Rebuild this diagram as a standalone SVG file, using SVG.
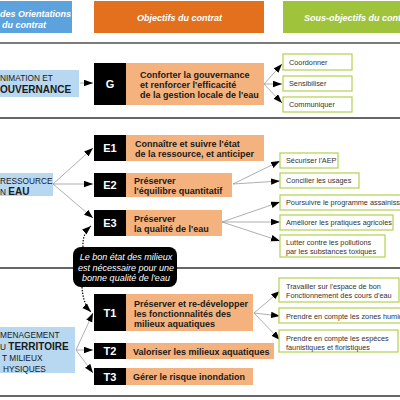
<svg xmlns="http://www.w3.org/2000/svg" width="400" height="400" viewBox="0 0 400 400">
<defs>
<marker id="ah" markerUnits="userSpaceOnUse" markerWidth="10" markerHeight="7" refX="9" refY="3.25" orient="auto">
<path d="M0,0 L9,3.25 L0,6.5 z" fill="#000"/>
</marker>
<style>
text{font-family:"Liberation Sans",Arial,sans-serif}
.hd{font-size:9px;font-weight:bold;font-style:italic;fill:#fff}
.ax{fill:#b8d7f0}
.axt{font-size:8.3px;fill:#1a1a1a}
.axb{font-size:10px;font-weight:bold;fill:#1a1a1a}
.bk{fill:#000}
.bkt{font-size:11px;font-weight:bold;fill:#fff;text-anchor:middle}
.or{fill:#f3b27e}
.ort{font-size:9px;font-weight:bold;fill:#1a1a1a}
.sb{fill:#fff;stroke:#b8d45c;stroke-width:1.3}
.sbt{font-size:7.3px;fill:#333}
.cn{fill:none;stroke:#9a9a9a;stroke-width:0.8;marker-end:url(#ah)}
.dt{fill:none;stroke:#000;stroke-width:1.2;stroke-dasharray:1.4 1.4;marker-end:url(#ah)}
.sep{stroke:#333;stroke-width:1.3}
.cot{font-size:9px;font-style:italic;fill:#fff;text-anchor:middle}
</style>
</defs>
<rect width="400" height="400" fill="#fff"/>
<g id="header">
<rect x="-2" y="1" width="74" height="32" fill="#5ca3de"/>
<text class="hd" x="0" y="16.5" font-size="8.4">des Orientations</text>
<text class="hd" x="2" y="27.5">du contrat</text>
<rect x="94" y="1" width="170" height="32" fill="#e3701d"/>
<text class="hd" x="179.5" y="20.5" text-anchor="middle">Objectifs du contrat</text>
<rect x="283" y="1" width="120" height="32" fill="#9fc43c"/>
<text class="hd" x="304" y="20.5">Sous-objectifs du contrat</text>
</g>
<g id="separators">
<line x1="0" y1="43" x2="400" y2="43" stroke="#7a7a7a" stroke-width="2"/>
<line class="sep" x1="0" y1="118" x2="400" y2="118"/>
<line class="sep" x1="0" y1="268" x2="400" y2="268"/>
<line class="sep" x1="0" y1="396" x2="400" y2="396"/>
</g>
<g id="connectors">
<path class="cn" d="M80,83 L93,83"/>
<path class="cn" d="M264,84 L282,64"/>
<path class="cn" d="M264,84 L282,84"/>
<path class="cn" d="M264,84 L282,103"/>
<path class="cn" d="M53,184 L93,148"/>
<path class="cn" d="M53,184 L93,184"/>
<path class="cn" d="M53,184 L93,218"/>
<path class="cn" d="M233,184 L280,161"/>
<path class="cn" d="M233,184 L280,181"/>
<path class="cn" d="M222,222 L280,202"/>
<path class="cn" d="M222,222 L280,222"/>
<path class="cn" d="M222,222 L280,241"/>
<path class="cn" d="M76,350 L93,313"/>
<path class="cn" d="M76,350 L93,350"/>
<path class="cn" d="M76,350 L93,373"/>
<path class="cn" d="M254,313 L280,291"/>
<path class="cn" d="M254,313 L280,316"/>
<path class="cn" d="M254,313 L280,340"/>
<path class="dt" d="M83,247 Q82,234 91,226"/>
<path class="dt" d="M82,287 Q83,304 91,312"/>
</g>
<g id="axe-gouvernance">
<rect class="ax" x="-1" y="70" width="80" height="27"/>
<text class="axt" x="0" y="80.5">NIMATION ET</text>
<text class="axb" x="0" y="92.5">OUVERNANCE</text>
</g>
<g id="obj-G">
<rect class="bk" x="94" y="63" width="32" height="42"/>
<text class="bkt" x="110" y="88">G</text>
<rect class="or" x="126" y="63" width="138" height="42"/>
<text class="ort" x="140" y="77.5">Conforter la gouvernance</text>
<text class="ort" x="140" y="87.5">et renforcer l'efficacité</text>
<text class="ort" x="140" y="97.5">de la gestion locale de l'eau</text>
</g>
<g id="sub-coordonner"><rect class="sb" x="283" y="54" width="69" height="16"/><text class="sbt" x="289" y="64.6">Coordonner</text></g>
<g id="sub-sensibiliser"><rect class="sb" x="283" y="76" width="69" height="15"/><text class="sbt" x="289" y="86">Sensibiliser</text></g>
<g id="sub-communiquer"><rect class="sb" x="283" y="97" width="69" height="15"/><text class="sbt" x="289" y="107">Communiquer</text></g>
<g id="axe-ressource">
<rect class="ax" x="-1" y="173" width="54" height="23"/>
<text class="axt" x="0" y="184" font-size="7.6">RESSOURCE</text>
<text x="0" y="195"><tspan class="axt">N </tspan><tspan class="axb" font-size="9.5">EAU</tspan></text>
</g>
<g id="obj-E1">
<rect class="bk" x="94" y="135" width="32" height="26"/>
<text class="bkt" x="110" y="152">E1</text>
<rect class="or" x="126" y="135" width="138" height="26"/>
<text class="ort" x="135" y="146.5">Connaître et suivre l'état</text>
<text class="ort" x="135" y="156.5">de la ressource, et anticiper</text>
</g>
<g id="obj-E2">
<rect class="bk" x="94" y="173" width="32" height="24"/>
<text class="bkt" x="110" y="189">E2</text>
<rect class="or" x="126" y="173" width="106" height="24"/>
<text class="ort" x="134" y="183.5">Préserver</text>
<text class="ort" x="134" y="194">l'équilibre quantitatif</text>
</g>
<g id="obj-E3">
<rect class="bk" x="94" y="210" width="32" height="26"/>
<text class="bkt" x="110" y="227">E3</text>
<rect class="or" x="126" y="210" width="96" height="26"/>
<text class="ort" x="134" y="221.5">Préserver</text>
<text class="ort" x="134" y="231.5">la qualité de l'eau</text>
</g>
<g id="sub-aep"><rect class="sb" x="280" y="153" width="58" height="15"/><text class="sbt" x="286" y="163">Sécuriser l'AEP</text></g>
<g id="sub-usages"><rect class="sb" x="280" y="173" width="79" height="15"/><text class="sbt" x="286" y="183">Concilier les usages</text></g>
<g id="sub-assainissement"><rect class="sb" x="280" y="195" width="125" height="15"/><text class="sbt" x="286" y="205">Poursuivre le programme assainissement</text></g>
<g id="sub-agricoles"><rect class="sb" x="280" y="215" width="113" height="15"/><text class="sbt" x="286" y="225">Améliorer les pratiques agricoles</text></g>
<g id="sub-pollutions"><rect class="sb" x="280" y="235" width="105" height="22"/><text class="sbt" x="286" y="245">Lutter contre les pollutions</text><text class="sbt" x="286" y="253.5">par les substances toxiques</text></g>
<g id="callout">
<rect x="73" y="247" width="104" height="40" rx="8" fill="#000"/>
<text class="cot" x="126" y="260">Le bon état des milieux</text>
<text class="cot" x="126" y="270.5">est nécessaire pour une</text>
<text class="cot" x="126" y="281">bonne qualité de l'eau</text>
</g>
<g id="axe-territoire">
<rect class="ax" x="-1" y="327" width="76" height="46"/>
<text class="axt" x="0" y="338">MENAGEMENT</text>
<text x="0" y="350"><tspan class="axt">U </tspan><tspan class="axb">TERRITOIRE</tspan></text>
<text class="axt" x="2" y="361">T MILIEUX</text>
<text class="axt" x="3" y="372">HYSIQUES</text>
</g>
<g id="obj-T1">
<rect class="bk" x="94" y="294" width="32" height="37"/>
<text class="bkt" x="110" y="316.5">T1</text>
<rect class="or" x="126" y="294" width="127" height="37"/>
<text class="ort" x="134" y="306.5">Préserver et re-développer</text>
<text class="ort" x="134" y="316.5">les fonctionnalités des</text>
<text class="ort" x="134" y="326.5">milieux aquatiques</text>
</g>
<g id="obj-T2">
<rect class="bk" x="94" y="343" width="32" height="16"/>
<text class="bkt" x="110" y="355">T2</text>
<rect class="or" x="126" y="343" width="148" height="16"/>
<text class="ort" x="133" y="354.5">Valoriser les milieux aquatiques</text>
</g>
<g id="obj-T3">
<rect class="bk" x="94" y="368" width="32" height="17"/>
<text class="bkt" x="110" y="380.5">T3</text>
<rect class="or" x="126" y="368" width="127" height="17"/>
<text class="ort" x="133" y="380">Gérer le risque inondation</text>
</g>
<g id="sub-espace"><rect class="sb" x="279" y="278" width="120" height="24"/><text class="sbt" x="286" y="289">Travailler sur l'espace de bon</text><text class="sbt" x="286" y="297.5">Fonctionnement des cours d'eau</text></g>
<g id="sub-zones"><rect class="sb" x="279" y="308" width="126" height="15"/><text class="sbt" x="286" y="318.5">Prendre en compte les zones humides</text></g>
<g id="sub-especes"><rect class="sb" x="279" y="330" width="119" height="22"/><text class="sbt" x="286" y="341">Prendre en compte les espèces</text><text class="sbt" x="286" y="349.5">faunistiques et floristiques</text></g>
</svg>
